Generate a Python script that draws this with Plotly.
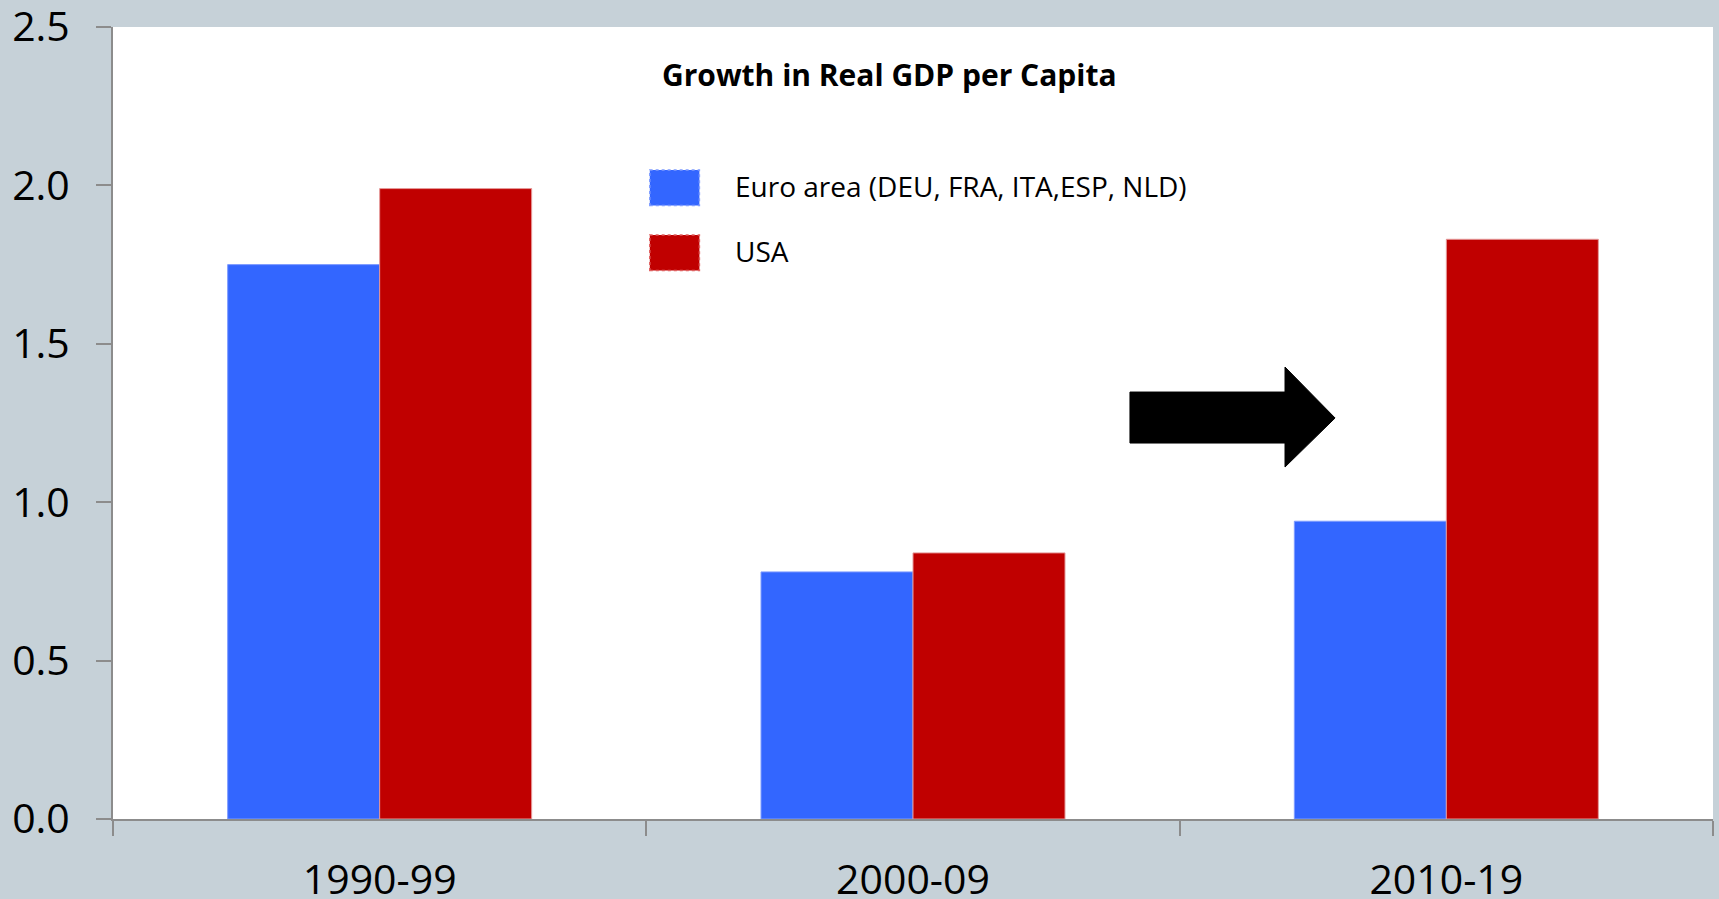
import plotly.graph_objects as go

periods = ["1990-99", "2000-09", "2010-19"]
series_names = ["Euro area (DEU, FRA, ITA,ESP, NLD)", "USA"]
euro_area = [1.75, 0.78, 0.94]
usa = [1.99, 0.84, 1.83]
y_ticks = [0.0, 0.5, 1.0, 1.5, 2.0, 2.5]
title_text = "Growth in Real GDP per Capita"

BLUE = "#3366FF"
RED = "#C00000"
BG = "#C6D1D8"
FONT = "Open Sans"

fig = go.Figure()
fig.add_trace(go.Bar(x=periods, y=euro_area, name=series_names[0],
                     marker=dict(color=BLUE, line=dict(color="#7F9CFF", width=1)),
                     showlegend=False))
fig.add_trace(go.Bar(x=periods, y=usa, name=series_names[1],
                     marker=dict(color=RED, line=dict(color="#E59A9A", width=1)),
                     showlegend=False))

# Custom legend (large swatches as in the reference)
legend_items = [(series_names[0], BLUE, "#7F9CFF", 0.797), (series_names[1], RED, "#E06060", 0.715)]
for name, col, edge, yc in legend_items:
    fig.add_shape(type="rect", xref="paper", yref="paper",
                  x0=0.3355, x1=0.3665, y0=yc - 0.0225, y1=yc + 0.0225,
                  fillcolor=col, line=dict(color=edge, width=1.5, dash="dot"))
    fig.add_annotation(text=name, xref="paper", yref="paper", x=0.3875, y=yc + 0.002,
                       xanchor="left", yanchor="middle", showarrow=False,
                       font=dict(family=FONT, size=28, color="black"))

fig.add_annotation(text="<b>" + title_text + "</b>", xref="paper", yref="paper",
                   x=0.485, y=0.94, xanchor="center", yanchor="middle", showarrow=False,
                   font=dict(family=FONT, size=30, color="black"))

# Block arrow
fig.add_shape(type="path", xref="paper", yref="paper",
              path="M 0.6356 0.5391 L 0.7325 0.5391 L 0.7325 0.5707 L 0.7638 0.5063 "
                   "L 0.7325 0.4444 L 0.7325 0.4747 L 0.6356 0.4747 Z",
              fillcolor="black", line=dict(color="black", width=1))

fig.update_layout(
    width=1719, height=899,
    margin=dict(l=113, r=6, t=27, b=80),
    paper_bgcolor=BG, plot_bgcolor="white",
    barmode="group", bargap=0.43, bargroupgap=0,
    font=dict(family=FONT, color="black"),
)
fig.update_yaxes(range=[0, 2.5001], tickvals=y_ticks, tickformat=".1f",
                 showgrid=False, zeroline=False, automargin=False,
                 showline=True, linecolor="#8C8C8C", linewidth=2,
                 ticks="outside", ticklen=15, tickwidth=2, tickcolor="#8C8C8C",
                 tickfont=dict(family=FONT, size=41, color="black"),
                 ticklabelstandoff=18, ticklabeloverflow="allow")
fig.update_xaxes(type="category", showgrid=False, tickson="boundaries", automargin=False,
                 showline=True, linecolor="#8C8C8C", linewidth=2,
                 ticks="outside", ticklen=15, tickwidth=2, tickcolor="#8C8C8C",
                 tickfont=dict(family=FONT, size=41, color="black"),
                 ticklabelstandoff=24, ticklabeloverflow="allow")

fig.write_html("out.html")
